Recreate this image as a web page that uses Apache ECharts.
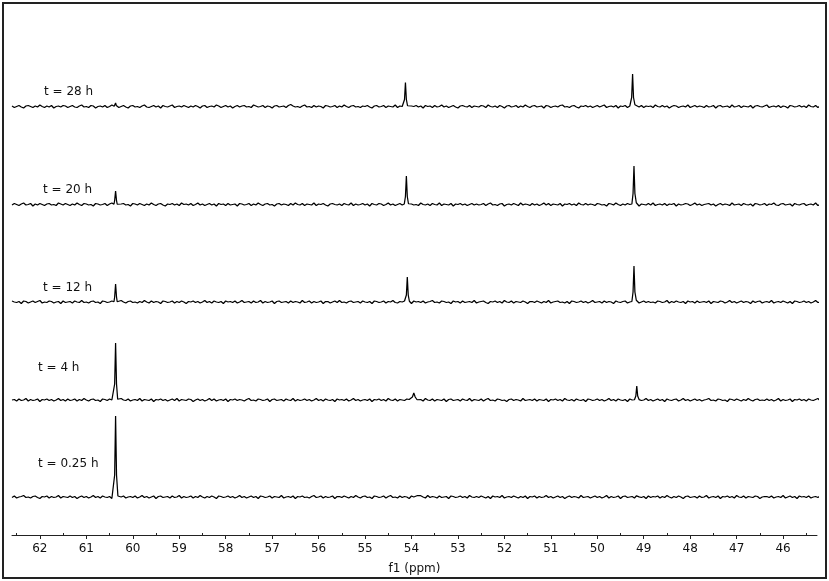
<!DOCTYPE html>
<html>
<head>
<meta charset="utf-8">
<script src="https://cdn.jsdelivr.net/npm/echarts@6/dist/echarts.min.js"></script>
<style>html,body{margin:0;padding:0;background:#fff;}#c{width:829px;height:581px;}</style>
</head>
<body>
<div id="c"></div>
<script>
// ---- data ----
const traceLabels = ['t = 28 h', 't = 20 h', 't = 12 h', 't = 4 h', 't = 0.25 h'];
const tickLabels = [46, 47, 48, 49, 50, 51, 52, 53, 54, 55, 56, 57, 58, 59, 60, 61, 62];
const minorTicks = [45.5, 46.5, 47.5, 48.5, 49.5, 50.5, 51.5, 52.5, 53.5, 54.5, 55.5, 56.5, 57.5, 58.5, 59.5, 60.5, 61.5, 62.5];
const ppmMin = 45.27, ppmMax = 62.60;
const noiseStart = 62.6, noiseStep = 0.05;

// baseline noise (intensity units, one value every 0.05 ppm from 62.6 ppm down)
const noise28 = [
1,-2,0,2,-1,-3,1,2,0,-2,1,-1,3,0,-2,1,-1,2,-3,0,1,-1,2,1,-2,
0,2,-1,-2,1,3,-1,0,-2,2,1,-3,0,1,-1,2,-2,0,3,-1,1,-2,0,2,-1,
-3,1,2,-1,0,-2,1,3,-1,-2,0,2,-1,1,-3,2,0,-1,1,3,-2,0,1,-1,2,
0,-2,1,-1,2,0,-3,1,2,-2,0,1,-1,3,1,-2,0,2,-1,1,-3,0,2,-1,1,
2,-1,0,-2,3,1,-1,0,2,-2,1,0,-3,1,2,-1,0,1,-2,2,4,1,-1,0,-2,
1,3,-1,0,-2,2,-1,1,0,-3,2,1,-1,0,2,-2,1,-1,3,0,-2,1,2,-1,0,
-2,1,0,2,-1,-3,1,2,-1,0,2,-2,1,0,-1,3,-2,1,0,2,-1,-2,1,0,2,
-1,1,-3,2,0,1,-2,2,-1,0,3,-1,1,-2,0,2,-1,-3,1,2,0,-1,2,-2,1,
0,-1,2,1,-2,3,0,-1,1,-2,2,0,-3,1,2,-1,0,2,-2,1,-1,3,0,-2,1,
2,-1,0,1,-3,2,1,-2,0,1,-1,2,3,-1,0,-2,1,2,-1,-3,1,0,2,-1,1,
-2,0,2,-1,1,3,-2,0,1,-1,2,-3,1,0,2,-2,1,-1,0,3,-1,2,-2,1,0,
1,-2,3,0,-1,2,-1,1,-3,0,2,1,-2,0,1,-1,3,-2,0,2,-1,1,0,-2,2,
-1,0,2,-3,1,2,-1,0,1,-2,3,-1,0,2,-2,1,0,-1,2,-3,1,2,0,-1,1,
3,-2,0,1,-1,2,-2,1,0,-3,2,1,-1,0,2,-1,1,-2,3,0,-1,2,-2,1,0];
const noise20 = [
-1,2,0,-2,1,3,-1,0,2,-3,1,-1,2,0,-2,1,2,-1,0,-2,3,1,-1,2,0,
-2,1,-1,3,0,-2,2,1,-1,0,-3,2,1,-1,0,2,-2,1,3,-1,0,-2,1,2,-1,
0,-3,2,1,-1,2,0,-2,1,-1,3,0,-2,1,2,-1,-3,1,0,2,-1,1,-2,3,0,
1,-1,2,-2,0,3,-1,1,-2,0,2,-1,1,-3,2,0,1,-2,2,-1,0,1,-3,2,1,
-1,0,2,-2,1,-1,3,0,-2,1,2,-1,0,-3,1,2,-1,1,0,-2,2,-1,3,0,-1,
2,-2,1,0,-1,3,-2,1,0,2,-1,-3,1,2,0,-1,1,-2,2,0,-1,3,-2,1,-1,
0,2,-1,1,-3,2,0,-1,2,1,-2,0,3,-1,1,-2,0,2,-1,1,-3,2,1,-1,0,
-2,3,0,-1,1,-2,2,0,-1,3,-2,1,0,-1,2,-3,1,0,2,-1,1,-2,0,2,-1,
1,-1,0,2,-2,1,3,-1,0,-2,1,2,-3,0,1,-1,2,0,-2,3,-1,1,0,-2,2,
-1,1,-2,0,3,-1,2,-2,1,0,-1,2,-3,1,0,2,-1,1,-2,3,0,-1,2,-1,1,
0,-2,2,1,-1,0,-3,2,1,-1,3,0,-2,1,-1,2,0,-2,1,2,-3,1,0,-1,2,
-1,3,-2,0,1,-1,2,-2,1,0,2,-3,1,-1,0,2,1,-2,0,3,-1,1,-2,0,1,
2,-1,1,-3,0,2,-1,1,0,-2,3,-1,0,1,-2,2,0,-1,1,-3,2,1,-1,0,2,
-2,1,0,3,-1,-2,1,2,-1,0,1,-3,2,0,-1,1,2,-2,0,1,-1,3,-2,0,1];
const noise12 = [
2,0,-1,1,-3,2,1,-2,0,2,-1,1,3,-2,0,-1,2,1,-2,0,1,-3,2,-1,0,
1,-2,2,0,-1,3,-1,0,-2,1,2,-1,0,-3,2,1,-1,0,2,-2,1,-1,3,0,-2,
1,2,-1,0,-2,1,-1,3,0,-2,2,-1,1,0,-3,2,1,-1,0,2,-2,1,-1,2,0,
-3,1,0,2,-1,1,-2,0,3,-1,1,-2,2,0,-1,1,-3,2,0,1,-1,2,-2,0,3,
-1,0,1,-2,2,-1,0,3,-2,1,-1,0,2,-3,1,2,-1,0,1,-2,2,-1,1,0,-2,
3,-1,0,2,-2,1,-1,0,2,-3,1,1,-2,0,2,-1,3,-1,0,-2,1,2,-1,0,1,
-2,2,0,-1,1,-3,2,1,-1,0,2,-2,1,0,3,-1,-2,1,0,2,-1,1,-3,2,0,
1,-1,2,-2,0,1,3,-1,0,-2,2,1,-1,0,-3,2,0,1,-2,2,-1,0,1,-1,3,
-2,0,1,2,-1,-3,1,0,2,-1,1,-2,3,0,-1,2,-2,1,0,-1,2,0,-3,1,1,
-1,2,0,-2,1,-1,3,-2,0,1,2,-1,0,-2,1,-3,2,1,-1,0,2,-1,1,-2,0,
3,-1,0,1,-2,2,-1,1,0,-3,2,0,-1,1,2,-2,0,1,-1,3,-2,0,2,-1,1,
-1,0,-2,2,1,-1,0,3,-2,1,-1,2,0,-1,1,-3,2,0,1,-2,2,-1,0,1,-1,
2,-3,1,0,-1,2,1,-2,0,3,-1,1,-2,0,2,-1,1,0,-3,2,-1,1,2,-2,0,
1,-1,3,-2,0,1,-1,2,0,-2,1,-3,2,1,-1,0,2,-1,1,-2,0,3,-1,0,2];
const noise4 = [
0,1,-2,2,-1,0,3,-2,1,-1,0,2,-3,1,0,2,-1,1,-2,0,3,-1,1,-2,2,
-1,0,2,-2,1,-1,3,0,-2,1,2,-1,0,-3,2,1,-1,2,0,-2,1,-1,3,0,-1,
2,-2,0,1,-1,3,-2,1,0,-1,2,-3,1,0,2,-1,1,-2,0,2,-1,3,-2,1,0,
-1,2,1,-3,0,2,-1,1,-2,0,3,-1,2,-2,0,1,-1,2,-3,1,0,2,-1,1,0,
-2,1,3,-1,0,-2,2,1,-1,0,2,-3,1,2,-1,0,1,-2,2,0,-1,3,-2,1,-1,
0,2,-1,1,-2,0,3,-1,1,-2,2,0,-1,1,-3,2,0,1,-1,2,-2,0,3,-1,1,
-2,0,1,-1,2,-3,1,0,2,-1,1,-2,3,0,-1,2,-2,1,0,-1,2,1,-3,0,2,
-1,1,-2,3,0,-1,2,-2,1,0,-1,2,-3,1,2,-1,0,1,-2,2,0,-1,3,-2,1,
0,-1,2,-2,1,3,-1,0,-2,2,1,-1,0,-3,1,2,-1,1,0,-2,3,-1,0,1,-1,
2,-2,1,0,-1,2,-3,1,0,2,-1,1,-2,3,0,-1,1,-2,2,0,-1,1,-3,2,1,
-1,0,2,-1,1,-2,0,3,-1,1,-2,2,0,-1,1,-3,2,0,1,-2,2,-1,0,3,-1,
1,-2,0,2,-1,1,-3,2,0,-1,1,2,-2,0,3,-1,1,-2,0,2,-1,1,-2,0,1,
3,-1,0,-2,2,1,-1,0,-3,2,1,-1,2,0,-2,1,-1,3,0,-2,1,2,-1,0,-1,
2,-1,1,-2,0,3,-2,1,-1,0,2,-3,1,0,2,-1,1,-2,2,0,-1,1,3,-2,0];
const noise025 = [
-1,2,-2,0,1,3,-1,0,-2,1,2,-1,-3,1,0,2,-2,1,-1,0,3,-2,1,0,-1,
2,-1,1,-3,0,2,-1,1,-2,0,3,-1,1,-2,2,0,-1,1,-3,2,1,-1,0,2,-2,
0,1,-1,2,-2,0,3,-1,1,-2,0,2,-3,1,2,-1,0,1,-2,2,-1,0,3,-2,1,
-1,0,2,-2,1,-1,3,0,-2,1,-1,2,0,-3,2,1,-1,0,2,-1,1,-2,0,3,-1,
1,-2,0,2,-1,1,-3,2,1,-1,0,2,-2,1,0,-1,3,-2,0,1,-1,2,-3,1,0,
2,-1,0,-2,1,3,-1,0,2,-2,1,-1,0,2,-3,1,1,-1,2,0,-2,1,-1,3,0,
-2,1,2,-1,0,-3,2,1,-1,0,2,-2,1,3,-1,0,-2,2,-1,1,0,-3,2,0,1,
-1,2,0,-2,3,-1,1,0,-2,2,-1,0,1,-3,2,1,-1,0,2,-1,1,-2,3,0,-1,
1,-1,2,0,-2,1,-3,2,0,1,-1,3,-2,0,1,-1,2,0,-2,1,-1,2,-3,1,0,
2,-2,1,-1,0,3,-1,1,-2,0,2,-1,1,-3,0,2,-1,1,0,-2,3,-1,0,1,-2,
0,2,-1,1,-2,0,3,-2,1,-1,0,2,-3,1,2,-1,0,1,-2,2,0,-1,1,-3,2,
-1,1,0,2,-2,1,-1,3,0,-2,1,-1,2,0,-3,1,2,-1,0,1,-2,2,-1,0,3,
-2,0,1,-1,2,-3,1,0,2,-1,1,-2,3,0,-1,2,-2,1,0,-1,2,1,-3,0,1,
1,-1,2,-2,0,1,-1,3,-2,0,2,-1,1,-3,2,0,1,-1,2,-2,0,1,-1,2,0];

// peak points [ppm, intensity], one cluster per peak
const peaks28 = [
  [[60.40,0.5],[60.385,2],[60.37,7],[60.355,2],[60.34,0.5]],
  [[54.175,1],[54.15,14],[54.13,48],[54.11,14],[54.085,1.5]],
  [[49.285,1],[49.26,18],[49.24,65],[49.22,18],[49.19,3.5],[49.165,1]]
];
const peaks20 = [
  [[60.405,0.5],[60.39,8],[60.37,27],[60.35,8],[60.335,0.5]],
  [[54.155,1],[54.13,16],[54.11,57],[54.09,16],[54.065,1.5]],
  [[49.255,1],[49.23,22],[49.21,77],[49.19,22],[49.16,3.5],[49.135,1]]
];
const peaks12 = [
  [[60.405,0.5],[60.39,10],[60.37,36],[60.35,10],[60.335,0.5]],
  [[54.135,1],[54.11,14],[54.09,50],[54.07,14],[54.045,1.5]],
  [[49.255,1],[49.23,20],[49.21,72],[49.19,20],[49.16,3.5],[49.135,1]]
];
const peaks4 = [
  [[60.415,0.5],[60.39,32],[60.37,114],[60.35,32],[60.325,1.5]],
  [[54.02,0.5],[53.98,6],[53.95,14],[53.92,6],[53.88,0.5]],
  [[49.2,0.5],[49.17,8],[49.15,28],[49.13,8],[49.1,0.8]]
];
const peaks025 = [
  [[60.42,0.5],[60.39,44],[60.37,162],[60.35,44],[60.32,2]],
  [[53.91,0.4],[53.87,3],[53.84,5],[53.81,3],[53.77,0.4]],
  [[49.18,0.4],[49.155,2.4],[49.14,6],[49.125,2.4],[49.1,0.4]]
];

const noiseSets = [noise28, noise20, noise12, noise4, noise025];
const peakSets = [peaks28, peaks20, peaks12, peaks4, peaks025];

// ---- layout ----
const baselines = [106.5, 204.5, 302, 400, 497];
const labelPos = [[44, 92], [43, 190], [43, 288], [38, 368], [38, 464]];
const gridLeft = 12, gridRight = 12;

function buildTrace(noise, peaks) {
  const ranges = peaks.map(c => [Math.min(...c.map(p => p[0])), Math.max(...c.map(p => p[0]))]);
  const pts = [];
  noise.forEach((v, i) => {
    const x = Math.round((noiseStart - i * noiseStep) * 1000) / 1000;
    if (!ranges.some(r => x >= r[0] - 0.01 && x <= r[1] + 0.01)) pts.push([x, v]);
  });
  peaks.forEach(c => c.forEach(p => pts.push(p)));
  pts.sort((a, b) => b[0] - a[0]);
  return pts;
}

const grids = [], xAxes = [], yAxes = [], series = [];
baselines.forEach((b, i) => {
  grids.push({ left: gridLeft, right: gridRight, top: b - 95, height: 100 });
  xAxes.push({ type: 'value', gridIndex: i, min: ppmMin, max: ppmMax, inverse: true, show: false });
  yAxes.push({ type: 'value', gridIndex: i, min: -10, max: 190, show: false });
  series.push({
    type: 'line', xAxisIndex: i, yAxisIndex: i,
    data: buildTrace(noiseSets[i], peakSets[i]),
    showSymbol: false, symbol: 'none', smooth: false,
    lineStyle: { color: '#000', width: 1.25 },
    silent: true, animation: false
  });
});
// axis grid (major ticks + labels)
grids.push({ left: gridLeft, right: gridRight, top: 435, height: 100 });
xAxes.push({
  type: 'value', gridIndex: 5, min: ppmMin, max: ppmMax, inverse: true,
  axisLine: { show: true, lineStyle: { color: '#222', width: 1 } },
  axisTick: { show: true, length: 4, inside: false, customValues: tickLabels, lineStyle: { color: '#222' } },
  axisLabel: { show: true, customValues: tickLabels, color: '#111', fontSize: 12, fontFamily: 'DejaVu Sans', margin: 8 },
  splitLine: { show: false },
  name: 'f1 (ppm)', nameLocation: 'middle', nameGap: 28,
  nameTextStyle: { color: '#111', fontSize: 12, fontFamily: 'DejaVu Sans' }
});
yAxes.push({ type: 'value', gridIndex: 5, show: false, min: 0, max: 1 });
// minor ticks grid
grids.push({ left: gridLeft, right: gridRight, top: 435, height: 100 });
xAxes.push({
  type: 'value', gridIndex: 6, min: ppmMin, max: ppmMax, inverse: true,
  axisLine: { show: false },
  axisTick: { show: true, length: 2, inside: true, customValues: minorTicks, lineStyle: { color: '#222' } },
  axisLabel: { show: false },
  splitLine: { show: false }
});
yAxes.push({ type: 'value', gridIndex: 6, show: false, min: 0, max: 1 });

const graphics = [
  { type: 'rect', shape: { x: 3, y: 3, width: 823, height: 575 }, style: { fill: 'none', stroke: '#222', lineWidth: 2 }, z: 10 }
];
traceLabels.forEach((t, i) => {
  graphics.push({
    type: 'text', x: labelPos[i][0], y: labelPos[i][1],
    style: { text: t, fill: '#111', fontSize: 12, fontFamily: 'DejaVu Sans', verticalAlign: 'middle', align: 'left' }
  });
});

const chart = echarts.init(document.getElementById('c'), null, { renderer: 'canvas' });
chart.setOption({
  backgroundColor: '#fff',
  animation: false,
  grid: grids, xAxis: xAxes, yAxis: yAxes, series: series,
  graphic: graphics
});
</script>
</body>
</html>
